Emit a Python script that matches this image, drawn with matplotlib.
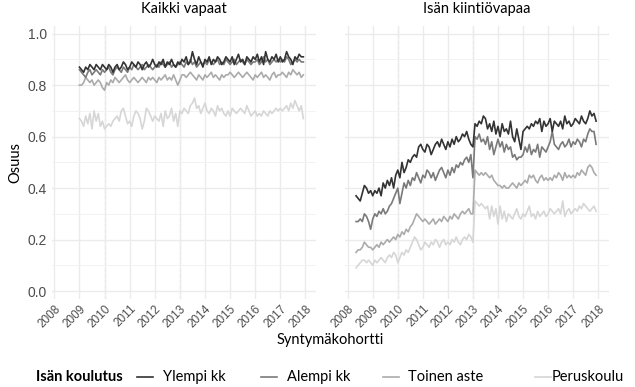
import numpy as np
import matplotlib
matplotlib.use("Agg")
import matplotlib.pyplot as plt
from matplotlib.lines import Line2D

# ---------------- data ----------------
panel_titles = ["Kaikki vapaat", "Isän kiintiövapaa"]
series_names = ["Ylempi kk", "Alempi kk", "Toinen aste", "Peruskoulu"]
legend_title = "Isän koulutus"
x_label = "Syntymäkohortti"
y_label = "Osuus"
year_ticks = list(range(2008, 2019))
reform_years = [2010, 2013]

left_start = (2009, 1)   # first month, left panel
right_start = (2008, 5)  # first month, right panel

left_ylempi = [
    0.87,0.86,0.85,0.87,0.86,0.88,0.87,0.86,0.88,0.87,0.86,0.88,
    0.87,0.86,0.88,0.87,0.85,0.87,0.88,0.86,0.87,0.89,0.88,0.86,
    0.87,0.89,0.88,0.87,0.89,0.88,0.86,0.88,0.89,0.87,0.88,0.90,
    0.88,0.87,0.89,0.88,0.90,0.87,0.89,0.88,0.90,0.88,0.87,0.89,
    0.88,0.90,0.89,0.91,0.88,0.89,0.93,0.90,0.88,0.91,0.89,0.87,
    0.90,0.89,0.91,0.88,0.90,0.89,0.91,0.90,0.88,0.89,0.91,0.90,
    0.89,0.91,0.88,0.90,0.92,0.89,0.90,0.88,0.91,0.90,0.89,0.91,
    0.90,0.92,0.89,0.91,0.88,0.93,0.90,0.89,0.91,0.90,0.92,0.89,
    0.91,0.89,0.90,0.93,0.91,0.90,0.88,0.91,0.90,0.92,0.91,0.91]
left_alempi = [
    0.86,0.85,0.84,0.83,0.85,0.86,0.84,0.85,0.86,0.85,0.84,0.86,
    0.85,0.86,0.87,0.85,0.84,0.86,0.87,0.86,0.85,0.87,0.86,0.85,
    0.87,0.86,0.88,0.87,0.86,0.87,0.88,0.86,0.87,0.88,0.87,0.86,
    0.87,0.88,0.87,0.89,0.88,0.87,0.88,0.89,0.87,0.88,0.87,0.88,
    0.89,0.88,0.87,0.89,0.88,0.90,0.88,0.89,0.87,0.88,0.89,0.88,
    0.89,0.88,0.90,0.89,0.88,0.89,0.90,0.88,0.89,0.88,0.90,0.89,
    0.88,0.89,0.90,0.88,0.89,0.90,0.89,0.88,0.90,0.89,0.88,0.89,
    0.89,0.90,0.88,0.89,0.91,0.89,0.90,0.88,0.89,0.90,0.89,0.90,
    0.89,0.90,0.89,0.91,0.90,0.88,0.89,0.90,0.89,0.90,0.89,0.89]
left_toinen = [
    0.80,0.80,0.81,0.83,0.82,0.81,0.82,0.80,0.81,0.82,0.81,0.79,
    0.78,0.81,0.80,0.82,0.81,0.83,0.82,0.81,0.82,0.83,0.84,0.82,
    0.81,0.82,0.83,0.82,0.81,0.82,0.83,0.82,0.81,0.83,0.82,0.83,
    0.82,0.81,0.83,0.82,0.83,0.84,0.82,0.83,0.82,0.84,0.82,0.80,
    0.82,0.84,0.84,0.83,0.84,0.85,0.84,0.83,0.82,0.84,0.83,0.82,
    0.84,0.83,0.84,0.85,0.83,0.84,0.83,0.82,0.84,0.83,0.84,0.84,
    0.85,0.84,0.83,0.84,0.85,0.84,0.83,0.84,0.85,0.84,0.83,0.82,
    0.84,0.83,0.84,0.85,0.83,0.84,0.83,0.82,0.84,0.85,0.83,0.84,
    0.84,0.85,0.84,0.83,0.85,0.84,0.86,0.85,0.84,0.85,0.83,0.84]
left_perus = [
    0.67,0.66,0.64,0.68,0.65,0.69,0.63,0.70,0.66,0.69,0.64,0.66,
    0.63,0.64,0.65,0.64,0.66,0.67,0.68,0.66,0.70,0.71,0.68,0.65,
    0.66,0.64,0.68,0.70,0.69,0.67,0.63,0.66,0.71,0.70,0.68,0.66,
    0.68,0.67,0.66,0.69,0.64,0.70,0.67,0.68,0.71,0.66,0.69,0.64,
    0.70,0.69,0.71,0.70,0.69,0.72,0.73,0.75,0.71,0.72,0.69,0.71,
    0.73,0.70,0.69,0.71,0.70,0.68,0.72,0.70,0.71,0.69,0.68,0.70,
    0.68,0.71,0.70,0.69,0.70,0.71,0.70,0.69,0.72,0.70,0.68,0.69,
    0.70,0.68,0.69,0.68,0.70,0.69,0.68,0.70,0.69,0.70,0.71,0.70,
    0.71,0.70,0.71,0.72,0.70,0.73,0.71,0.74,0.72,0.70,0.72,0.67]

right_ylempi = [
    0.37,0.36,0.35,0.38,0.41,0.40,0.38,0.39,
    0.37,0.39,0.38,0.40,0.37,0.42,0.40,0.43,0.41,0.44,0.40,0.45,
    0.47,0.44,0.50,0.46,0.48,0.51,0.50,0.52,0.53,0.52,0.56,0.57,
    0.55,0.54,0.57,0.56,0.53,0.55,0.57,0.58,0.56,0.59,0.57,0.55,
    0.58,0.56,0.59,0.57,0.60,0.58,0.59,0.61,0.60,0.62,0.59,0.57,
    0.56,0.65,0.64,0.66,0.65,0.68,0.67,0.63,0.65,0.62,0.66,0.61,
    0.64,0.60,0.65,0.62,0.63,0.61,0.66,0.60,0.58,0.63,0.59,0.55,
    0.62,0.63,0.64,0.63,0.65,0.64,0.66,0.65,0.67,0.62,0.66,0.64,
    0.65,0.67,0.62,0.66,0.65,0.64,0.66,0.63,0.68,0.65,0.66,0.64,
    0.65,0.67,0.66,0.65,0.68,0.66,0.65,0.67,0.70,0.68,0.69,0.66]
right_alempi = [
    0.27,0.27,0.28,0.27,0.30,0.29,0.27,0.24,
    0.28,0.30,0.29,0.31,0.30,0.32,0.30,0.31,0.33,0.34,0.36,0.38,
    0.40,0.34,0.38,0.42,0.40,0.43,0.41,0.44,0.43,0.46,0.44,0.42,
    0.45,0.44,0.47,0.46,0.44,0.46,0.43,0.45,0.47,0.48,0.46,0.44,
    0.47,0.45,0.48,0.46,0.49,0.48,0.50,0.49,0.51,0.52,0.50,0.53,
    0.44,0.60,0.59,0.61,0.58,0.59,0.57,0.60,0.55,0.58,0.53,0.56,
    0.59,0.56,0.58,0.54,0.57,0.55,0.56,0.52,0.53,0.51,0.52,0.52,
    0.53,0.56,0.54,0.57,0.53,0.55,0.54,0.57,0.52,0.56,0.55,0.54,
    0.56,0.58,0.62,0.57,0.56,0.55,0.57,0.58,0.56,0.57,0.59,0.56,
    0.58,0.57,0.59,0.58,0.56,0.59,0.58,0.61,0.63,0.62,0.62,0.57]
right_toinen = [
    0.15,0.16,0.16,0.17,0.19,0.18,0.17,0.17,
    0.16,0.17,0.18,0.17,0.19,0.18,0.19,0.20,0.19,0.20,0.21,0.20,
    0.22,0.21,0.23,0.22,0.24,0.23,0.25,0.26,0.28,0.30,0.29,0.28,
    0.27,0.28,0.27,0.26,0.27,0.28,0.26,0.27,0.28,0.27,0.29,0.28,
    0.27,0.29,0.28,0.30,0.29,0.28,0.30,0.31,0.30,0.31,0.32,0.30,
    0.30,0.47,0.46,0.45,0.46,0.45,0.46,0.45,0.44,0.45,0.43,0.42,
    0.41,0.41,0.40,0.41,0.40,0.40,0.41,0.42,0.41,0.40,0.42,0.41,
    0.42,0.43,0.42,0.45,0.44,0.45,0.43,0.42,0.44,0.45,0.43,0.44,
    0.43,0.44,0.43,0.45,0.44,0.46,0.45,0.43,0.46,0.44,0.45,0.44,
    0.45,0.44,0.46,0.45,0.47,0.46,0.45,0.48,0.49,0.48,0.46,0.45]
right_perus = [
    0.09,0.10,0.11,0.12,0.12,0.11,0.12,0.11,
    0.10,0.12,0.11,0.12,0.13,0.12,0.11,0.13,0.14,0.13,0.15,0.14,
    0.11,0.13,0.15,0.14,0.16,0.15,0.17,0.19,0.21,0.20,0.18,0.16,
    0.17,0.19,0.18,0.17,0.19,0.18,0.20,0.19,0.17,0.19,0.20,0.18,
    0.19,0.18,0.20,0.19,0.21,0.19,0.18,0.20,0.21,0.20,0.22,0.21,
    0.19,0.35,0.34,0.33,0.34,0.33,0.32,0.33,0.28,0.33,0.29,0.32,
    0.26,0.33,0.28,0.31,0.27,0.30,0.29,0.28,0.30,0.32,0.29,0.28,
    0.30,0.29,0.31,0.33,0.29,0.30,0.28,0.31,0.29,0.30,0.31,0.29,
    0.30,0.32,0.31,0.30,0.31,0.32,0.30,0.35,0.29,0.31,0.32,0.30,
    0.31,0.32,0.31,0.33,0.32,0.34,0.33,0.32,0.31,0.32,0.33,0.31]

left_series = [left_ylempi, left_alempi, left_toinen, left_perus]
right_series = [right_ylempi, right_alempi, right_toinen, right_perus]

# ---------------- style ----------------
colors = ["#333333", "#7a7a7a", "#ababab", "#d6d6d6"]
label_font = "Lato"
tick_font = "Liberation Sans"


def month_axis(start, n):
    y0, m0 = start
    return np.array([y0 + (m0 - 1 + i) / 12.0 for i in range(n)])


fig = plt.figure(figsize=(6.35, 3.87), dpi=100)
ax_l = fig.add_axes([0.0816, 0.228, 0.416, 0.705])
ax_r = fig.add_axes([0.5436, 0.228, 0.415, 0.705])

for ax, data, start, title in [(ax_l, left_series, left_start, panel_titles[0]),
                               (ax_r, right_series, right_start, panel_titles[1])]:
    ax.set_xlim(2007.9, 2018.42)
    ax.set_ylim(-0.03, 1.03)
    for s in ax.spines.values():
        s.set_visible(False)
    ax.set_xticks(year_ticks)
    ax.set_yticks([0.0, 0.2, 0.4, 0.6, 0.8, 1.0])
    ax.set_yticks([0.1, 0.3, 0.5, 0.7, 0.9], minor=True)
    ax.grid(True, which="major", color="#ebebeb", linewidth=1.0, zorder=0)
    ax.grid(True, which="minor", axis="y", color="#f2f2f2", linewidth=0.7, zorder=0)
    ax.tick_params(which="both", length=0)
    ax.tick_params(axis="x", pad=3)
    ax.set_xticklabels([str(y) for y in year_ticks], rotation=45, ha="right",
                       rotation_mode="anchor", fontsize=8.5, color="#4d4d4d",
                       family=tick_font)
    for rx in reform_years:
        ax.axvline(rx, color="#bdbdbd", linestyle=(0, (3, 2)), linewidth=0.8, zorder=1)
    # draw lightest first so darker lines sit on top
    for vals, col in reversed(list(zip(data, colors))):
        x = month_axis(start, len(vals))
        ax.plot(x, vals, color=col, linewidth=1.2, zorder=3)
    ax.set_title(title, fontsize=10.5, family=label_font, pad=9)

ax_l.set_yticklabels(["0.0", "0.2", "0.4", "0.6", "0.8", "1.0"], fontsize=10,
                     color="#4d4d4d", family=tick_font)
ax_r.set_yticklabels([])
ax_l.set_ylabel(y_label, fontsize=10.5, family=label_font, labelpad=4)

fig.text(330 / 635, 1 - 340 / 387, x_label, ha="center", va="center", fontsize=10.5,
         family=label_font)

# legend (manual placement to mimic ggplot bottom legend)
ly = 1 - 377 / 387
fig.text(36 / 635, ly, legend_title, ha="left", va="center", fontsize=10.5,
         family=label_font, fontweight="bold")
handle_x = [137, 261, 383, 535]
text_x = [163, 287, 408, 552]
for name, col, hx, tx in zip(series_names, colors, handle_x, text_x):
    fig.add_artist(Line2D([hx / 635, (hx + 16) / 635], [ly, ly],
                          transform=fig.transFigure, color=col, linewidth=1.2))
    fig.text(tx / 635, ly, name, ha="left", va="center", fontsize=10.5,
             family=label_font)

fig.savefig("out.png", dpi=100, facecolor="white")
